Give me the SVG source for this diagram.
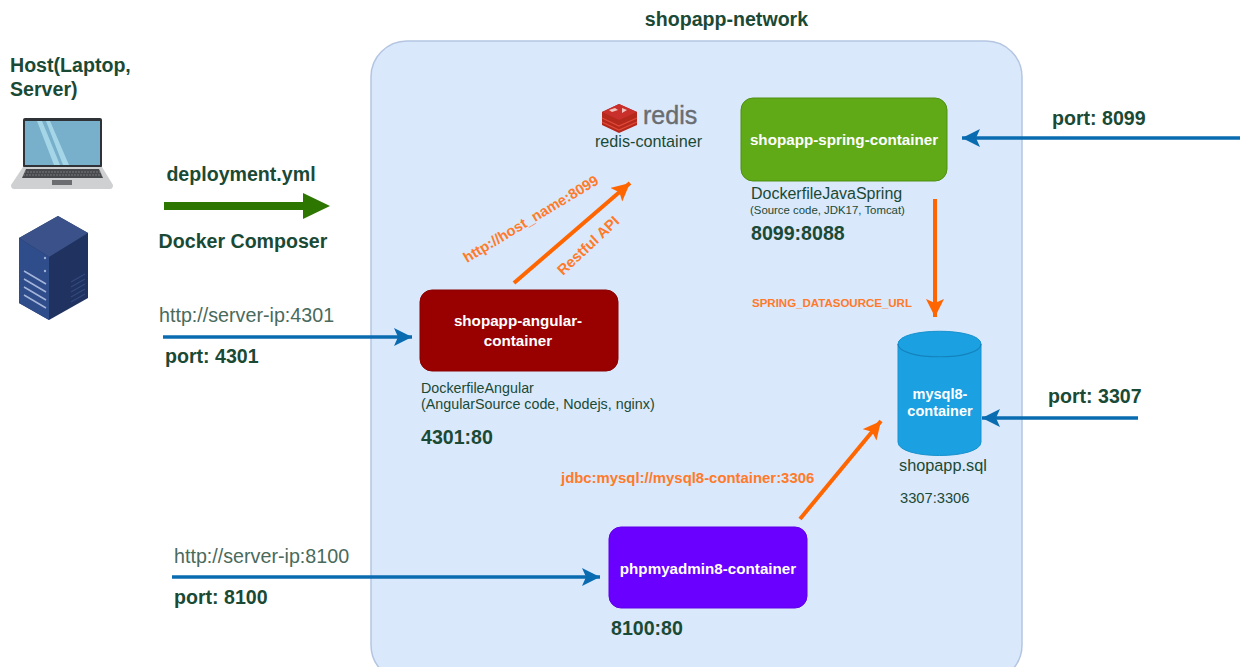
<svg xmlns="http://www.w3.org/2000/svg" width="1248" height="667" viewBox="0 0 1248 667">
<style>
text{font-family:"Liberation Sans",Arial,sans-serif;fill:#1a4a35}
.b{font-weight:700;font-size:19.6px}
.w{fill:#fff;font-weight:700;text-anchor:middle;font-size:15.2px}
.o{fill:#ff7a29;font-weight:700}
.blue{stroke:#0a6cb0;stroke-width:3.5;fill:none}
.or{stroke:#ff6600;stroke-width:4;fill:none}
.gr{fill:#2d7600}
.u{fill:#4a6a5c;font-size:19.7px}
.m{font-size:16px}
</style>
<defs>
<marker id="ab" markerUnits="userSpaceOnUse" markerWidth="20" markerHeight="20" refX="18" refY="9" orient="auto"><path d="M0 0L18 9L0 18L4 9Z" fill="#0a6cb0"/></marker>
<marker id="ao" markerUnits="userSpaceOnUse" markerWidth="20" markerHeight="20" refX="18" refY="9" orient="auto"><path d="M0 0L18 9L0 18L4 9Z" fill="#ff6600"/></marker>
</defs>
<rect width="1248" height="667" fill="#fff"/>
<g id="network"><rect x="371" y="41" width="651" height="640" rx="36" fill="#dae8fc" stroke="#b4c5e2" stroke-width="1.5"/><text class="b" x="726.500" y="26" text-anchor="middle">shopapp-network</text></g>

<g id="host">
<text class="b" x="10" y="72">Host(Laptop,</text><text class="b" x="10" y="96">Server)</text>
<g id="laptop"><rect x="23" y="118" width="79" height="50" rx="2" fill="#2f3338"/><rect x="25" y="121" width="75" height="44" fill="#78afcb"/><path d="M37 121h5l18 44h-6ZM46 121h4l19 44h-6Z" fill="#a5d6e8"/><path d="M23 167H102L113 185Q113 189 110 189H14Q11 189 11 185Z" fill="#cfd0d1"/><path d="M26 169H99L103 178H22Z" fill="#47494c"/><path d="M24 172H101M23 175H102" stroke="#9a9c9e" stroke-width=".6" stroke-dasharray="2 1"/><rect x="52" y="180" width="20" height="5" fill="#6b6d70"/></g>
<g id="server"><path d="M19 238L58 216L88 233V298L49 320L19 303Z" fill="#1f3260"/><path d="M19 238L58 216L88 233L49 257Z" fill="#3a5189"/><path d="M19 238L49 257V320L19 303Z" fill="#2f4c8b"/><path d="M24 271L46 284M24 279L46 292M24 287L46 300M24 295L46 308" stroke="#a5b6da" stroke-width="1.500"/><path d="M71 282L85 274M71 287L85 279M71 292L85 284M71 297L85 289M71 302L85 294" stroke="#34497e" stroke-width="1.200"/><circle cx="45" cy="258" r="1.200" fill="#9fb1d4"/><circle cx="45" cy="271" r="1.200" fill="#9fb1d4"/></g>
</g>

<g id="deployment">
<text class="b" x="241" y="181" text-anchor="middle">deployment.yml</text>
<path class="gr" d="M164 202H303V193L330 206L303 219V210H164Z"/>
<text class="b" x="243" y="248" text-anchor="middle">Docker Composer</text>
</g>

<g id="redis"><path d="M602 112L619 104L637 112V125L619 133L602 125Z" fill="#b5281c"/><path d="M602 118L619 126L637 118M602 122L619 130L637 122" fill="none" stroke="#e04a38" stroke-width="1.200"/><path d="M602 112L619 104L637 112L619 120Z" fill="#c9302c"/><path d="M609 110l6-2 3 2-6 2ZM622 108l5 2-5 3Z" fill="#f3c4bd"/>
<text x="643" y="124" font-size="25" style="fill:#6a6d70;stroke:#6a6d70;stroke-width:.4">redis</text>
<text x="648.500" y="147" font-size="16.200" text-anchor="middle">redis-container</text></g>

<g id="spring"><rect x="741" y="98" width="206" height="83" rx="12" fill="#60a917" stroke="#4f9012"/><text class="w" x="844" y="145">shopapp-spring-container</text>
<text class="m" x="751" y="199">DockerfileJavaSpring</text><text x="750" y="214" font-size="11.400">(Source code, JDK17, Tomcat)</text><text class="b" x="751" y="240">8099:8088</text></g>

<g id="angular"><rect x="420" y="290" width="198" height="81" rx="12" fill="#990000" stroke="#8a0000"/><text class="w" x="518" y="326">shopapp-angular-</text><text class="w" x="518" y="346">container</text>
<text x="421" y="393" font-size="14.300">DockerfileAngular</text><text x="421" y="409" font-size="14.300">(AngularSource code, Nodejs, nginx)</text><text class="b" x="421" y="444">4301:80</text></g>

<g id="phpmyadmin"><rect x="609" y="527" width="198" height="81" rx="12" fill="#6a00ff" stroke="#5f00e6"/><text class="w" x="708" y="574">phpmyadmin8-container</text><text class="b" x="611" y="635">8100:80</text></g>

<g id="mysql"><path d="M898 344C898 327 981 327 981 344V442C981 460 898 460 898 442Z" fill="#1ba1e2" stroke="#1891cc"/><path d="M898 344C898 361 981 361 981 344" fill="none" stroke="#1483bd" stroke-width="1.200"/><text class="w" x="940" y="399" style="font-size:14.500px">mysql8-</text><text class="w" x="940" y="416" style="font-size:14.500px">container</text><text x="899" y="471" font-size="16.300">shopapp.sql</text><text x="900" y="503" font-size="14.700">3307:3306</text></g>

<g id="connectors">
<path class="blue" d="M163 337H412" marker-end="url(#ab)"/>
<path class="blue" d="M172 577H600" marker-end="url(#ab)"/>
<path class="blue" d="M1240 138H962" marker-end="url(#ab)"/>
<path class="blue" d="M1138 418H982" marker-end="url(#ab)"/>
<path class="or" d="M514 283L630 183" marker-end="url(#ao)"/>
<path class="or" d="M935 199V317" marker-end="url(#ao)"/>
<path class="or" d="M800 519L881 421" marker-end="url(#ao)"/>
</g>

<g id="labels">
<text class="u" x="159" y="322">http://server-ip:4301</text>
<text class="b" x="165" y="363">port: 4301</text>
<text class="u" x="174" y="563">http://server-ip:8100</text>
<text class="b" x="174" y="604">port: 8100</text>
<text class="b" x="1052" y="125">port: 8099</text>
<text class="b" x="1048" y="403">port: 3307</text>
<text class="o" font-size="14.600" transform="translate(467 263) rotate(-31)">http://host_name:8099</text>
<text class="o" font-size="14.800" transform="translate(563 276) rotate(-43)">Restful API</text>
<text class="o" x="752" y="307" font-size="11.500">SPRING_DATASOURCE_URL</text>
<text class="o" x="561" y="483" font-size="14.900">jdbc:mysql://mysql8-container:3306</text>
</g>
</svg>
